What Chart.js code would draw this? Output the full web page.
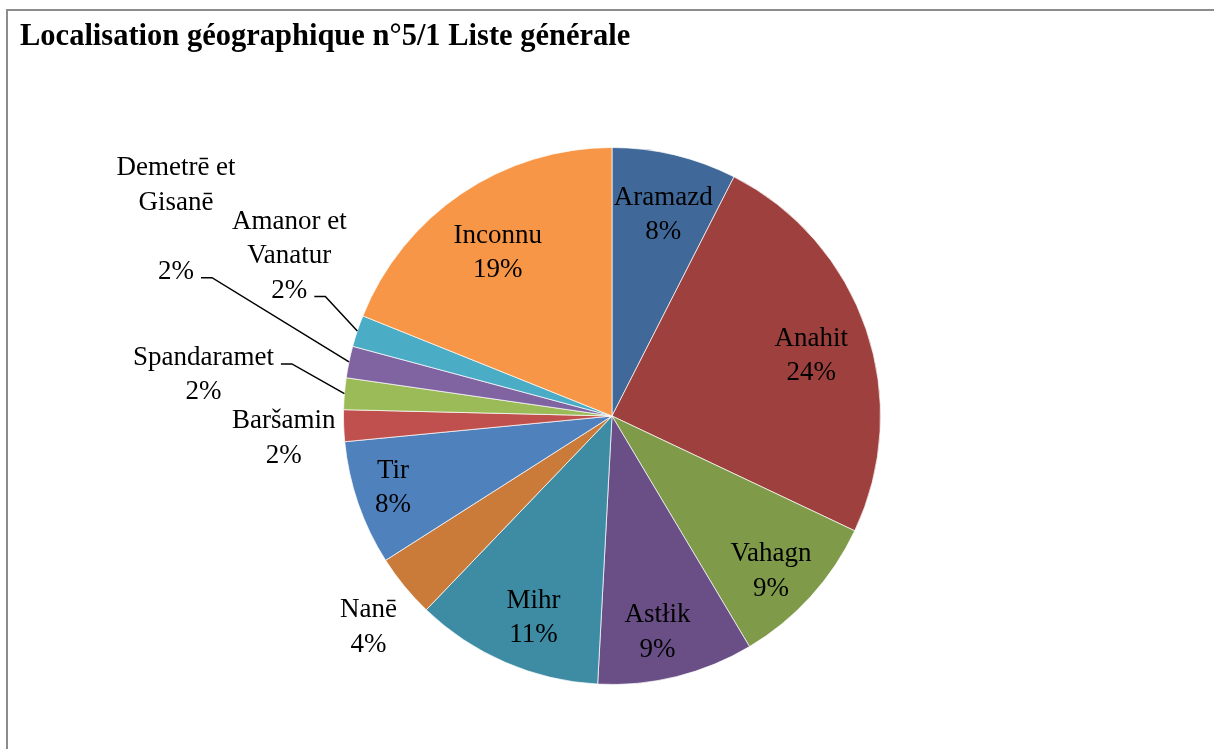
<!DOCTYPE html>
<html><head><meta charset="utf-8">
<script src="https://cdn.jsdelivr.net/npm/chart.js@4"></script>
<style>
html,body{margin:0;padding:0;background:#fff;overflow:hidden;}
#wrap{position:relative;width:1214px;height:749px;overflow:hidden;}
#frame{position:absolute;left:6px;top:9px;width:1300px;height:900px;border-left:2px solid #8c8c8c;border-top:2px solid #8c8c8c;}
canvas{position:absolute;left:0;top:0;}
</style></head><body>
<div id="wrap"><div id="frame"></div><canvas id="c" width="1214" height="749"></canvas></div>
<script>
const chartTitle = 'Localisation géographique n°5/1 Liste générale';
const categories = ['Aramazd','Anahit','Vahagn','Astłik','Mihr','Nanē','Tir','Baršamin','Spandaramet','Demetrē et Gisanē','Amanor et Vanatur','Inconnu'];
const shares = [7.5, 24.5, 9.4, 9.4, 11.3, 3.8, 7.5, 1.9, 1.9, 1.9, 1.9, 18.9];
const percentLabels = ['8%','24%','9%','9%','11%','4%','8%','2%','2%','2%','2%','19%'];
const colors = ['#40699A','#9E413E','#7F9A48','#6A4F87','#3D8CA3','#CB7B39','#4F81BD','#C0504D','#9BBB59','#8064A2','#4BACC6','#F79646'];

// label layout (styling only)
const placement = [
  {mode:'in', r:0.8, dx:1, dy:8},
  {mode:'in', r:0.8, dx:-4, dy:9},
  {mode:'in', r:0.8, dx:0, dy:11},
  {mode:'in', r:0.8, dx:-6, dy:8},
  {mode:'in', r:0.8, dx:7, dy:5},
  {mode:'out', dx:-36, dy:41},
  {mode:'in', r:0.8, dx:-16, dy:2},
  {mode:'out', dx:-60, dy:12.5},
  {mode:'out', dx:-141, dy:-18.5, leader:0},
  {mode:'out', dx:-173, dy:-142, wrap:2, gap:1, leader:3},
  {mode:'out', dx:-68, dy:-75, wrap:2, leader:2},
  {mode:'in', r:0.8, dx:6, dy:15}
];

const labelPlugin = {
  id:'pieLabels',
  afterDatasetsDraw(chart){
    const ctx = chart.ctx;
    const meta = chart.getDatasetMeta(0);
    ctx.save();
    ctx.font = '27px "Liberation Serif"';
    ctx.fillStyle = '#000';
    ctx.textAlign = 'center';
    ctx.textBaseline = 'middle';
    const LH = 34.5;
    meta.data.forEach((arc, i) => {
      const p = placement[i];
      const {x, y, startAngle, endAngle, outerRadius} = arc.getProps(['x','y','startAngle','endAngle','outerRadius'], true);
      const mid = (startAngle + endAngle) / 2;
      const words = categories[i].split(' ');
      let lines = p.wrap ? [words.slice(0, p.wrap).join(' '), words.slice(p.wrap).join(' ')] : [categories[i]];
      for (let g = 0; g < (p.gap || 0); g++) lines.push('');
      lines.push(percentLabels[i]);
      const ex = x + Math.cos(mid) * outerRadius, ey = y + Math.sin(mid) * outerRadius;
      let cx, cy;
      if (p.mode === 'in') {
        cx = x + Math.cos(mid) * outerRadius * p.r + p.dx;
        cy = y + Math.sin(mid) * outerRadius * p.r + p.dy;
      } else {
        cx = ex + p.dx; cy = ey + p.dy;
      }
      const top = cy - (lines.length - 1) * LH / 2;
      lines.forEach((t, k) => { if (t) ctx.fillText(t, cx, top + k * LH); });
      if (p.leader !== undefined) {
        const k = p.leader;
        const w = ctx.measureText(lines[k]).width;
        const lx = cx + w / 2 + 7, ly = top + k * LH + 6;
        ctx.beginPath();
        ctx.moveTo(lx, ly); ctx.lineTo(lx + 11, ly); ctx.lineTo(ex, ey);
        ctx.lineWidth = 1.5; ctx.strokeStyle = '#000'; ctx.stroke();
      }
    });
    ctx.restore();
  }
};

new Chart(document.getElementById('c'), {
  type: 'pie',
  data: {
    labels: categories,
    datasets: [{
      data: shares,
      backgroundColor: colors,
      borderColor: 'rgba(255,255,255,0.7)',
      borderWidth: 1
    }]
  },
  options: {
    responsive: false,
    animation: false,
    devicePixelRatio: 1,
    layout: { padding: { left: 20, right: 10, top: 0, bottom: 64 } },
    plugins: {
      legend: { display: false },
      tooltip: { enabled: false },
      title: {
        display: true,
        text: chartTitle,
        align: 'start',
        color: '#000',
        font: { family: '"Liberation Serif"', size: 30.5, weight: 'bold', lineHeight: 1.2 },
        padding: { top: 19, bottom: 91.4 }
      }
    }
  },
  plugins: [labelPlugin]
});
</script>
</body></html>
